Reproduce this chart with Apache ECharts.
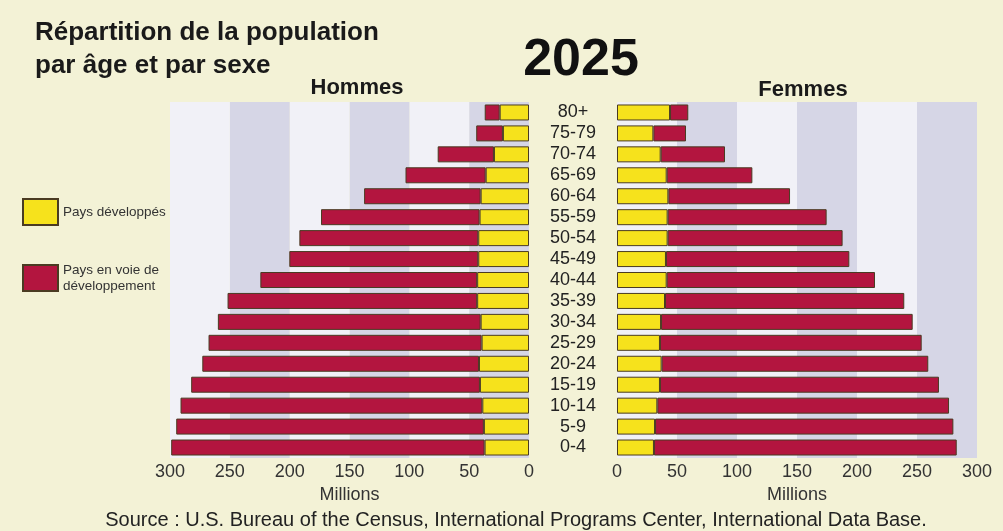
<!DOCTYPE html>
<html>
<head>
<meta charset="utf-8">
<title>Répartition de la population 2025</title>
<script src="https://cdn.jsdelivr.net/npm/echarts@6/dist/echarts.min.js"></script>
<style>
html, body { margin: 0; padding: 0; background: #f3f2d6; }
#chart { width: 1003px; height: 531px; }
</style>
</head>
<body>
<div id="chart"></div>
<script>
// classes d'age, du bas (0-4) vers le haut (80+)
const ageGroups = ['0-4', '5-9', '10-14', '15-19', '20-24', '25-29', '30-34', '35-39', '40-44',
  '45-49', '50-54', '55-59', '60-64', '65-69', '70-74', '75-79', '80+'];

// millions, hommes
const hommesDev = [37.1, 37.7, 39, 41, 41.8, 39.6, 40.4, 43.3, 43.3, 42.4, 42.4, 41.3, 40.4, 36.2, 29.3, 21.8, 24.5];
const hommesPvd = [261.9, 257.1, 252.2, 241.3, 231.2, 228.2, 219.6, 208.6, 181.2, 157.9, 149.5, 132.5, 97.4, 67, 47, 22.3, 12.5];

// millions, femmes
const femmesDev = [30.8, 31.7, 33.6, 35.8, 37.2, 35.8, 36.7, 40, 41.4, 40.8, 42.2, 42.2, 42.8, 41.4, 36.4, 30.3, 44.2];
const femmesPvd = [252.3, 248.6, 243.1, 232.5, 222.2, 218.1, 209.7, 199.4, 173.6, 152.8, 145.8, 132.5, 101.4, 71.4, 53.6, 27.2, 15.2];

const axisMax = 300;
const axisStep = 50;

const FONT = '"Liberation Sans", Arial, sans-serif';
const YELLOW = '#f6e21c';
const RED = '#b3153f';
const EDGE = '#4a3b22';
const BAND = '#d6d6e6';
const LIGHT = '#f1f1f7';

let chart = echarts.init(document.getElementById('chart'));

function valueAxis(gridIndex, inverse, colors) {
  return {
    type: 'value',
    gridIndex: gridIndex,
    min: 0,
    max: axisMax,
    interval: axisStep,
    inverse: inverse,
    name: 'Millions',
    nameLocation: 'middle',
    nameGap: 28,
    nameTextStyle: { color: '#333', fontSize: 18, fontFamily: FONT },
    axisLine: { show: false },
    axisTick: { show: false },
    splitLine: { show: false },
    splitArea: { show: true, areaStyle: { color: colors } },
    axisLabel: { color: '#333', fontSize: 18, fontFamily: FONT, margin: 5 }
  };
}

function catAxis(gridIndex, showLabel) {
  return {
    type: 'category',
    gridIndex: gridIndex,
    data: ageGroups,
    axisLine: { show: false },
    axisTick: { show: false },
    axisLabel: {
      show: showLabel,
      interval: 0,
      align: 'center',
      margin: 44,
      color: '#222',
      fontSize: 18,
      fontFamily: FONT
    }
  };
}

function bar(name, stack, idx, data, color) {
  return {
    name: name,
    type: 'bar',
    stack: stack,
    xAxisIndex: idx,
    yAxisIndex: idx,
    barWidth: 16,
    data: data,
    itemStyle: { color: color, borderColor: EDGE, borderWidth: 1 }
  };
}

let option = {
  backgroundColor: '#f3f2d6',
  animation: false,
  title: [
    {
      text: 'Répartition de la population\npar âge et par sexe',
      left: 30, top: 11,
      textStyle: { fontSize: 26, fontWeight: 'bold', color: '#1a1a1a', fontFamily: FONT, lineHeight: 33 }
    },
    {
      text: '2025',
      left: 576, top: 30, textAlign: 'center',
      textStyle: { fontSize: 52, fontWeight: 'bold', color: '#111', fontFamily: FONT }
    },
    {
      text: 'Hommes',
      left: 352, top: 72, textAlign: 'center',
      textStyle: { fontSize: 22, fontWeight: 'bold', color: '#1a1a1a', fontFamily: FONT }
    },
    {
      text: 'Femmes',
      left: 798, top: 74, textAlign: 'center',
      textStyle: { fontSize: 22, fontWeight: 'bold', color: '#1a1a1a', fontFamily: FONT }
    },
    {
      text: 'Source : U.S. Bureau of the Census, International Programs Center, International Data Base.',
      left: 511, top: 505, textAlign: 'center',
      textStyle: { fontSize: 20, fontWeight: 'normal', color: '#222', fontFamily: FONT }
    }
  ],
  legend: {
    orient: 'vertical',
    left: 17,
    top: 193,
    itemWidth: 35,
    itemHeight: 26,
    itemGap: 36,
    icon: 'rect',
    data: ['Pays développés', 'Pays en voie de développement'],
    formatter: function (name) {
      return name === 'Pays en voie de développement' ? 'Pays en voie de\ndéveloppement' : name;
    },
    textStyle: { fontSize: 13.5, color: '#333', fontFamily: FONT, lineHeight: 16 }
  },
  grid: [
    { left: 170, right: 474, top: 102, height: 356 },
    { left: 617, right: 26, top: 102, height: 356 }
  ],
  xAxis: [
    valueAxis(0, true, [BAND, LIGHT]),
    valueAxis(1, false, [LIGHT, BAND])
  ],
  yAxis: [
    catAxis(0, false),
    catAxis(1, true)
  ],
  series: [
    bar('Pays développés', 'hommes', 0, hommesDev, YELLOW),
    bar('Pays en voie de développement', 'hommes', 0, hommesPvd, RED),
    bar('Pays développés', 'femmes', 1, femmesDev, YELLOW),
    bar('Pays en voie de développement', 'femmes', 1, femmesPvd, RED)
  ]
};

chart.setOption(option);
window.addEventListener('resize', function () {
  chart.resize();
});
</script>
</body>
</html>
